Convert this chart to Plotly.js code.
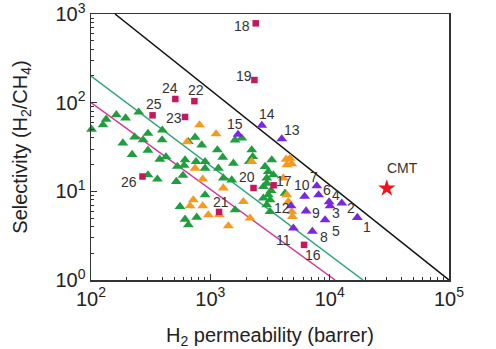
<!DOCTYPE html>
<html><head><meta charset="utf-8">
<script src="https://cdn.plot.ly/plotly-3.0.1.min.js"></script>
<style>html,body{margin:0;padding:0;background:#fff}#chart{width:496px;height:349px}</style>
</head><body><div id="chart"></div>
<script>
// ---- data (H2 permeability in barrer, H2/CH4 selectivity) ----
const greenX = [101,126,134,163,195,251,396,300,232,273,185,394,300,221,377,425,529,602,300,360,519,590,
  745,654,847,1145,1611,1833,2223,614,759,903,1270,1560,2123,2265,3270,903,1167,2874,3063,1285,1511,2970,3375,
  2970,2782,3228,4228,3165,2970,3165,2782,3063,903,557,1611,614,769,654];
const greenY = [50,56,65,73,67,78,49,45,41,38,35,38,29,26,23,24.4,19.1,19.6,15.3,13.7,12.9,15.1,
  40.7,36.3,33.3,29.3,37.9,39.7,29.3,22.6,21.6,21.6,24.2,20.7,21.6,24.6,22.6,18.2,18.2,19.0,16.7,14.1,13.4,14.1,15.3,
  12.3,11.3,10.2,9.5,8.0,7.03,5.9,8.36,9.1,9.1,6.73,6.17,4.84,5.1,4.18];

const orangeX = [811,1116,638,745,863,1285,2223,720,676,863,1890,961,1190,2150,1415,4310,4656,4810,4370,4090,4370,4505,4810,4870];
const orangeY = [56,44.4,36.1,18.2,13.7,10.9,21.7,8.0,6.85,6.85,7.65,5.42,5.42,4.98,4.07,23.0,23.6,20.4,19.9,14.1,9.1,7.65,5.9,5.19];

const purpleLabels = ['1','2','3','4','5','6','7','8','9','10','11','12','13','14','15'];
const purpleX = [17060,12630,10070,9890,9150,8070,7800,7160,6340,6165,4965,4745,3965,2700,1707];
const purpleY = [5.06,7.35,6.85,7.59,4.76,9.1,11.5,3.53,6.0,8.77,3.84,6.85,39,55.3,43.8];

const squareLabels = ['16','17','18','19','20','21','22','23','24','25','26'];
const squareX = [6100,3390,2400,2340,2300,1183,735,614,509,328,270];
const squareY = [2.49,11.7,785,180,10.9,5.86,104,69,110,72,14.7];

const starLabel = ['CMT'];
const starX = [30100];
const starY = [10.8];

// trade-off lines (two end points each)
const blackLineX = [159,100000], blackLineY = [1000,1];
const greenLineX = [100,19000],  greenLineY = [200,1];
const pinkLineX  = [100,11100],  pinkLineY  = [100,1];

const xTickVals = [100,1000,10000,100000];
const xTickText = ['10<sup>2</sup>','10<sup>3</sup>','10<sup>4</sup>','10<sup>5</sup>'];
const yTickVals = [1,10,100,1000];
const yTickText = ['10<sup>0</sup>','10<sup>1</sup>','10<sup>2</sup>','10<sup>3</sup>'];

// ---- styling (label offsets in px) ----
const labelShift = {
  '1':[10,-9],'2':[9,-5],'3':[6,-7],'4':[7,7],'5':[11,-11],'6':[8,5],'7':[-3,9],'8':[12,-6],
  '9':[10,-2],'10':[-3,11],'11':[-10,-12],'12':[-9,-2],'13':[10,9],'14':[5,11],'15':[-3,10],
  '16':[9,-10],'17':[10,4],'18':[-14,-3],'19':[-10,4],'20':[-7,11],'21':[2,10],'22':[2,11],
  '23':[-11,-1],'24':[-5,11],'25':[1,11],'26':[-13,-5],'CMT':[16,20]
};

function minorVals(lo, hi){
  const v=[]; for(let d=lo; d<hi; d++){ for(let m=2;m<=9;m++) v.push(m*Math.pow(10,d)); } return v;
}

const traces = [
  {x:pinkLineX,y:pinkLineY,mode:'lines',line:{color:'#d2389b',width:1.5},hoverinfo:'skip'},
  {x:greenLineX,y:greenLineY,mode:'lines',line:{color:'#2ba57c',width:1.5},hoverinfo:'skip'},
  {x:blackLineX,y:blackLineY,mode:'lines',line:{color:'#111',width:1.5},hoverinfo:'skip'},
  {x:greenX,y:greenY,mode:'markers',marker:{symbol:'triangle-up',size:9.5,color:'#1e9e3e'},cliponaxis:false},
  {x:orangeX,y:orangeY,mode:'markers',marker:{symbol:'triangle-up',size:9.5,color:'#f59a1c'}},
  {x:purpleX,y:purpleY,mode:'markers',marker:{symbol:'triangle-up',size:9.5,color:'#7b26e3'}},
  {x:squareX,y:squareY,mode:'markers',marker:{symbol:'square',size:6.5,color:'#c8165c'}},
  {x:starX,y:starY,mode:'markers',marker:{symbol:'star',size:13,color:'#f0141a'}}
];

const annotations = [];
function addLabels(labels, xs, ys){
  labels.forEach((t,i)=>{
    const s = labelShift[t] || [0,0];
    annotations.push({x:Math.log10(xs[i]), y:Math.log10(ys[i]), xref:'x', yref:'y', text:t,
      showarrow:false, xshift:s[0], yshift:s[1], font:{size:14,color:'#333',family:'Liberation Sans, Arial, sans-serif'}});
  });
}
addLabels(purpleLabels, purpleX, purpleY);
addLabels(squareLabels, squareX, squareY);
addLabels(starLabel, starX, starY);

const axisCommon = {
  type:'log', showgrid:false, zeroline:false, showline:true, mirror:true,
  linecolor:'#333', linewidth:1.5, ticks:'inside', ticklen:6, tickwidth:1.2, tickcolor:'#333',
  tickmode:'array', tickfont:{size:20,color:'#222'}, ticklabeloverflow:'allow'
};

const layout = {
  width:496, height:349,
  margin:{l:91,r:47,t:14,b:69},
  paper_bgcolor:'#fff', plot_bgcolor:'#fff',
  showlegend:false,
  font:{family:'Liberation Sans, Arial, sans-serif', color:'#222'},
  xaxis:Object.assign({}, axisCommon, {range:[2,5], tickvals:xTickVals, ticktext:xTickText,
    minor:{tickmode:'array', tickvals:minorVals(2,5), ticks:'inside', ticklen:3, tickcolor:'#333', tickwidth:1},
    title:{text:'H<sub>2</sub> permeability (barrer)', font:{size:20,color:'#222'}, standoff:20}}),
  yaxis:Object.assign({}, axisCommon, {range:[0,3], tickvals:yTickVals, ticktext:yTickText,
    minor:{tickmode:'array', tickvals:minorVals(0,3), ticks:'inside', ticklen:3, tickcolor:'#333', tickwidth:1},
    title:{text:'Selectivity (H<sub>2</sub>/CH<sub>4</sub>)', font:{size:20,color:'#222'}, standoff:22}}),
  annotations:annotations
};

Plotly.newPlot('chart', traces, layout, {displayModeBar:false, staticPlot:true});
</script>
</body></html>
